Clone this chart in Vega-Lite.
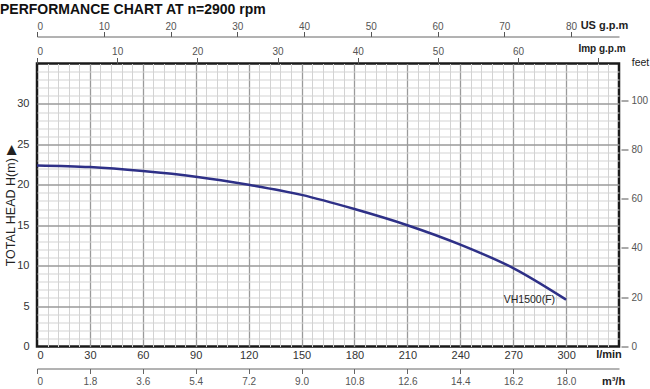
{
  "$schema": "https://vega.github.io/schema/vega-lite/v6.json",
  "width": 582,
  "height": 283,
  "autosize": {"type": "none"},
  "padding": {"left": 37, "top": 63.5, "right": 31, "bottom": 42.5},
  "background": "white",
  "title": {
    "text": "PERFORMANCE CHART AT n=2900 rpm",
    "anchor": "start",
    "frame": "group",
    "font": "Liberation Sans",
    "fontSize": 14,
    "fontWeight": "bold",
    "color": "#111111",
    "dx": -37,
    "offset": 0,
    "dy": -2
  },
  "config": {
    "view": {"stroke": "#1a1a1a", "strokeWidth": 2.5},
    "axis": {"labelFont": "Liberation Sans", "titleFont": "Liberation Sans"}
  },
  "datasets": {
    "curve": [
      {"Q": 0, "H": 22.4},
      {"Q": 30, "H": 22.2},
      {"Q": 60, "H": 21.7},
      {"Q": 90, "H": 21.0},
      {"Q": 120, "H": 20.0},
      {"Q": 150, "H": 18.75},
      {"Q": 180, "H": 17.0},
      {"Q": 210, "H": 15.0},
      {"Q": 240, "H": 12.6},
      {"Q": 270, "H": 9.7},
      {"Q": 300, "H": 5.8}
    ],
    "label": [{"Q": 300, "H": 5.8, "name": "VH1500(F)"}]
  },
  "resolve": {"axis": {"x": "independent", "y": "independent"}},
  "layer": [
    {
      "data": {"name": "label"},
      "mark": {"type": "text", "align": "right", "baseline": "middle", "dx": -11, "font": "Liberation Sans", "fontSize": 10.5, "color": "#222222"},
      "encoding": {
        "x": {
          "field": "Q", "type": "quantitative",
          "scale": {"domain": [0, 330], "nice": false, "zero": false},
          "axis": {
            "orient": "bottom",
            "values": [6,12,18,24,36,42,48,54,66,72,78,84,96,102,108,114,126,132,138,144,156,162,168,174,186,192,198,204,216,222,228,234,246,252,258,264,276,282,288,294,306,312,318,324],
            "grid": true, "gridColor": "#d3d3d3", "gridWidth": 1,
            "labels": false, "ticks": false, "domain": false, "title": null
          }
        },
        "y": {
          "field": "H", "type": "quantitative",
          "scale": {"domain": [0, 35], "nice": false, "zero": false},
          "axis": {
            "orient": "left",
            "values": [1,2,3,4,6,7,8,9,11,12,13,14,16,17,18,19,21,22,23,24,26,27,28,29,31,32,33,34],
            "grid": true, "gridColor": "#d3d3d3", "gridWidth": 1,
            "labels": false, "ticks": false, "domain": false, "title": null
          }
        },
        "text": {"field": "name"}
      }
    },
    {
      "data": {"name": "curve"},
      "mark": {"type": "line", "interpolate": "monotone", "color": "#2e3087", "strokeWidth": 2.5},
      "encoding": {
        "x": {
          "field": "Q", "type": "quantitative",
          "scale": {"domain": [0, 330], "nice": false, "zero": false},
          "axis": {
            "orient": "bottom",
            "values": [0,30,60,90,120,150,180,210,240,270,300],
            "grid": true,
            "gridColor": {"condition": {"test": "datum.value == 0", "value": "transparent"}, "value": "#9a9a9a"},
            "gridWidth": 1.3,
            "ticks": false, "domain": false,
            "labelFontSize": 11, "labelColor": "#333333", "labelPadding": 3,
            "title": "l/min", "titleFontSize": 11, "titleFontWeight": "bold", "titleColor": "#222222",
            "titleX": 571.5, "titleY": 8, "titleAlign": "center", "titleBaseline": "middle"
          }
        },
        "y": {
          "field": "H", "type": "quantitative",
          "scale": {"domain": [0, 35], "nice": false, "zero": false},
          "axis": {
            "orient": "left",
            "values": [0,5,10,15,20,25,30],
            "grid": true,
            "gridColor": {"condition": {"test": "datum.value == 0", "value": "transparent"}, "value": "#9a9a9a"},
            "gridWidth": 1.3,
            "ticks": false, "domain": false,
            "labelFontSize": 11, "labelColor": "#333333", "labelPadding": 8,
            "title": "TOTAL HEAD H(m) ▶", "titleFontSize": 12.5, "titleFontWeight": "normal", "titleColor": "#222222",
            "titleX": -27, "titleY": 141.5, "titleAngle": -90, "titleAlign": "center", "titleBaseline": "middle"
          }
        }
      }
    },
    {
      "data": {"name": "curve"},
      "mark": {"type": "point", "opacity": 0},
      "encoding": {
        "x": {
          "field": "Q", "type": "quantitative",
          "scale": {"domain": [0, 330], "nice": false, "zero": false},
          "axis": {
            "orient": "bottom", "offset": 22,
            "values": [0,30,60,90,120,150,180,210,240,270,300],
            "labelExpr": "datum.value == 0 ? '0' : format(datum.value * 0.06, '.1f')",
            "grid": false,
            "domain": true, "domainColor": "#666666", "domainWidth": 1,
            "ticks": true, "tickSize": 5, "tickColor": "#666666", "tickWidth": 1,
            "labelFontSize": 10, "labelColor": "#555555", "labelPadding": 3,
            "title": "m³/h", "titleFontSize": 11, "titleFontWeight": "bold", "titleColor": "#222222",
            "titleX": 576, "titleY": 13, "titleAlign": "center", "titleBaseline": "middle"
          }
        },
        "y": {
          "field": "H", "type": "quantitative",
          "scale": {"domain": [0, 35], "nice": false, "zero": false},
          "axis": {
            "orient": "right", "offset": 2,
            "values": [0, 6.096, 12.192, 18.288, 24.384, 30.48],
            "labelExpr": "format(round(datum.value / 0.3048), 'd')",
            "grid": false, "domain": false,
            "ticks": true, "tickSize": 7, "tickColor": "#555555", "tickWidth": 1,
            "labelFontSize": 10, "labelColor": "#555555", "labelPadding": 3,
            "title": "feet", "titleFontSize": 10.5, "titleFontWeight": "normal", "titleColor": "#222222",
            "titleAngle": 0, "titleX": 19, "titleY": -1.5, "titleAlign": "center", "titleBaseline": "middle"
          }
        }
      }
    },
    {
      "data": {"name": "curve"},
      "mark": {"type": "point", "opacity": 0},
      "encoding": {
        "x": {
          "field": "Q", "type": "quantitative",
          "scale": {"domain": [0, 330], "nice": false, "zero": false},
          "axis": {
            "orient": "top", "offset": 0,
            "values": [0, 45.4609, 90.9218, 136.3827, 181.8436, 227.3045, 272.7654, 318.2263],
            "labelExpr": "datum.value > 300 ? '' : format(round(datum.value / 4.54609), 'd')",
            "grid": false, "domain": false,
            "ticks": true, "tickSize": 6, "tickColor": "#555555", "tickWidth": 1,
            "labelFontSize": 10, "labelColor": "#555555", "labelPadding": 1,
            "title": "Imp g.p.m", "titleFontSize": 10, "titleFontWeight": "bold", "titleColor": "#222222",
            "titleX": 564.5, "titleY": -15, "titleAlign": "center", "titleBaseline": "middle"
          }
        }
      }
    },
    {
      "data": {"name": "curve"},
      "mark": {"type": "point", "opacity": 0},
      "encoding": {
        "x": {
          "field": "Q", "type": "quantitative",
          "scale": {"domain": [0, 330], "nice": false, "zero": false},
          "axis": {
            "orient": "top", "offset": 27,
            "values": [0, 37.8541, 75.7082, 113.5623, 151.4164, 189.2705, 227.1246, 264.9787, 302.8328],
            "labelExpr": "format(round(datum.value / 3.78541), 'd')",
            "grid": false,
            "domain": true, "domainColor": "#666666", "domainWidth": 1,
            "ticks": true, "tickSize": 5, "tickColor": "#555555", "tickWidth": 1,
            "labelFontSize": 10, "labelColor": "#555555", "labelPadding": 0,
            "title": "US g.p.m", "titleFontSize": 11, "titleFontWeight": "bold", "titleColor": "#222222",
            "titleX": 567, "titleY": -11.5, "titleAlign": "center", "titleBaseline": "middle"
          }
        }
      }
    }
  ]
}
